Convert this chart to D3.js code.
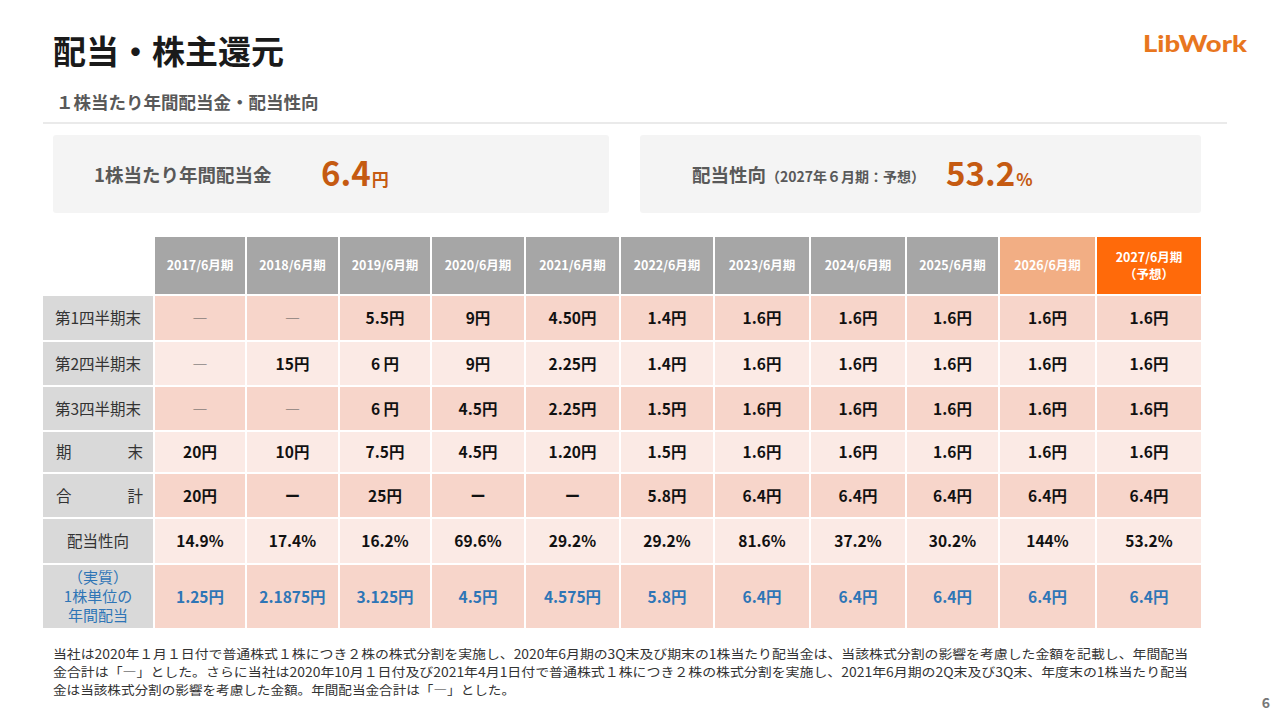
<!DOCTYPE html>
<html>
<head>
<meta charset="utf-8">
<script src="https://cdn.jsdelivr.net/npm/d3@7"></script>
<style>
  body { margin: 0; background: #fff; }
  svg text { font-family: "Noto Sans CJK JP", "Noto Sans", sans-serif; }
</style>
</head>
<body>
<div id="canvas"></div>
<script>
const width = 1280;
const height = 720;

// data
const years = ["2017/6月期", "2018/6月期", "2019/6月期", "2020/6月期", "2021/6月期", "2022/6月期",
  "2023/6月期", "2024/6月期", "2025/6月期", "2026/6月期", "2027/6月期"];
const q1End = ["―", "―", "5.5円", "9円", "4.50円", "1.4円", "1.6円", "1.6円", "1.6円", "1.6円", "1.6円"];
const q2End = ["―", "15円", "6 円", "9円", "2.25円", "1.4円", "1.6円", "1.6円", "1.6円", "1.6円", "1.6円"];
const q3End = ["―", "―", "6 円", "4.5円", "2.25円", "1.5円", "1.6円", "1.6円", "1.6円", "1.6円", "1.6円"];
const yearEnd = ["20円", "10円", "7.5円", "4.5円", "1.20円", "1.5円", "1.6円", "1.6円", "1.6円", "1.6円", "1.6円"];
const totals = ["20円", "ー", "25円", "ー", "ー", "5.8円", "6.4円", "6.4円", "6.4円", "6.4円", "6.4円"];
const payoutRatio = ["14.9%", "17.4%", "16.2%", "69.6%", "29.2%", "29.2%", "81.6%", "37.2%", "30.2%", "144%", "53.2%"];
const perShareReal = ["1.25円", "2.1875円", "3.125円", "4.5円", "4.575円", "5.8円", "6.4円", "6.4円", "6.4円", "6.4円", "6.4円"];
const rowLabels = ["第1四半期末", "第2四半期末", "第3四半期末", "期末", "合計", "配当性向", "実質"];
const annualDividend = 6.4;
const forecastPayout = 53.2;

const rows = [q1End, q2End, q3End, yearEnd, totals, payoutRatio, perShareReal];

// layout
const gap = 2;
const colWidths = [90, 91, 90, 92, 93, 92, 94, 94, 91, 95, 104];
const tableLeft = 155;
const colLefts = [tableLeft, ...d3.cumsum(colWidths).map((v, i) => tableLeft + v + gap * (i + 1))].slice(0, years.length);
const x = d3.scaleOrdinal(years, colLefts);
const w = d3.scaleOrdinal(years, colWidths);

const rowHeights = [46, 45, 45, 42, 45, 46, 65];
const tableTop = 237, headerH = 57, bodyTop = 296;
const rowTops = [bodyTop, ...d3.cumsum(rowHeights).map(v => bodyTop + v)];

const svg = d3.select("#canvas")
  .append("svg")
  .attr("width", width)
  .attr("height", height);

// title
svg.append("text").attr("x", 53).attr("y", 64)
  .attr("font-size", 33).attr("font-weight", 700).attr("fill", "#1a1a1a")
  .text("配当・株主還元");

svg.append("text").attr("x", 1143).attr("y", 52)
  .attr("font-size", 23).attr("font-weight", 900).attr("fill", "#E8761E")
  .attr("textLength", 104).attr("lengthAdjust", "spacingAndGlyphs")
  .style("font-family", "Lato, sans-serif")
  .text("LibWork");

svg.append("text").attr("x", 56).attr("y", 109)
  .attr("font-size", 17.5).attr("font-weight", 700).attr("fill", "#595959")
  .text("１株当たり年間配当金・配当性向");

svg.append("line").attr("x1", 43).attr("x2", 1227).attr("y1", 123).attr("y2", 123)
  .attr("stroke", "#e3e3e3").attr("stroke-width", 1.5);

// summary boxes
svg.append("rect").attr("x", 53).attr("y", 135).attr("width", 556).attr("height", 78)
  .attr("rx", 3).attr("fill", "#f4f4f4");
svg.append("rect").attr("x", 640).attr("y", 135).attr("width", 561).attr("height", 78)
  .attr("rx", 3).attr("fill", "#f4f4f4");

svg.append("text").attr("x", 94).attr("y", 182)
  .attr("font-size", 18.5).attr("font-weight", 700).attr("fill", "#595959")
  .text("1株当たり年間配当金");
const big1 = svg.append("text").attr("x", 321).attr("y", 186).attr("fill", "#C55A11").attr("font-weight", 700);
big1.append("tspan").attr("font-size", 33).text(d3.format(".1f")(annualDividend));
big1.append("tspan").attr("font-size", 17).attr("dx", 1).text("円");

const lab2 = svg.append("text").attr("x", 692).attr("y", 182).attr("fill", "#595959").attr("font-weight", 700);
lab2.append("tspan").attr("font-size", 18.5).text("配当性向");
lab2.append("tspan").attr("font-size", 14).text("（2027年６月期：予想）");
const big2 = svg.append("text").attr("x", 946).attr("y", 186).attr("fill", "#C55A11").attr("font-weight", 700);
big2.append("tspan").attr("font-size", 33).text(d3.format(".1f")(forecastPayout));
big2.append("tspan").attr("font-size", 17).attr("dx", 1).text("%");

// table header
const headerFill = d => d === "2027/6月期" ? "#FF6A0A" : d === "2026/6月期" ? "#F2AE84" : "#A6A6A6";

const header = svg.append("g");
header.selectAll("rect").data(years).join("rect")
  .attr("x", d => x(d)).attr("y", tableTop)
  .attr("width", d => w(d)).attr("height", headerH)
  .attr("fill", headerFill);
header.selectAll("text").data(years).join("text")
  .attr("x", d => x(d) + w(d) / 2)
  .attr("y", d => d === "2027/6月期" ? tableTop + 25 : tableTop + 33)
  .attr("text-anchor", "middle").attr("font-size", 12.5).attr("font-weight", 700).attr("fill", "#fff")
  .text(d => d);
header.append("text")
  .attr("x", x("2027/6月期") + w("2027/6月期") / 2).attr("y", tableTop + 42)
  .attr("text-anchor", "middle").attr("font-size", 12.5).attr("font-weight", 700).attr("fill", "#fff")
  .text("（予想）");

// table body
const rowFill = i => i % 2 === 0 ? "#F7D5CA" : "#FBEAE5";

rows.forEach((vals, i) => {
  const y0 = rowTops[i];
  const h = rowHeights[i] - gap;
  const g = svg.append("g");

  g.append("rect").attr("x", 43).attr("y", y0).attr("width", 110).attr("height", h).attr("fill", "#D9D9D9");

  const cx = 98, cy = y0 + h / 2;
  const label = rowLabels[i];
  if (label === "期末" || label === "合計") {
    g.append("text").attr("x", 56).attr("y", cy + 6).attr("font-size", 15.5).attr("fill", "#333").text(label[0]);
    g.append("text").attr("x", 143).attr("y", cy + 6).attr("text-anchor", "end").attr("font-size", 15.5).attr("fill", "#333").text(label[1]);
  } else if (label === "実質") {
    ["（実質）", "1株単位の", "年間配当"].forEach((t, k) => {
      g.append("text").attr("x", cx).attr("y", cy - 14 + k * 19)
        .attr("text-anchor", "middle").attr("font-size", 15).attr("fill", "#2E75B6").text(t);
    });
  } else {
    g.append("text").attr("x", cx).attr("y", cy + 6).attr("text-anchor", "middle")
      .attr("font-size", 15.5).attr("fill", "#333").text(label);
  }

  const blue = label === "実質";
  g.selectAll("rect.cell").data(vals).join("rect").attr("class", "cell")
    .attr("x", (d, j) => x(years[j])).attr("y", y0)
    .attr("width", (d, j) => w(years[j])).attr("height", h)
    .attr("fill", rowFill(i));
  g.selectAll("text.val").data(vals).join("text").attr("class", "val")
    .attr("x", (d, j) => x(years[j]) + w(years[j]) / 2)
    .attr("y", cy + 6)
    .attr("text-anchor", "middle")
    .attr("font-size", 15.5)
    .attr("font-weight", d => d === "―" ? 300 : 700)
    .attr("fill", d => blue ? "#2E75B6" : d === "―" ? "#555" : "#111")
    .text(d => d);
});

// footnote
const notes = [
  "当社は2020年１月１日付で普通株式１株につき２株の株式分割を実施し、2020年6月期の3Q末及び期末の1株当たり配当金は、当該株式分割の影響を考慮した金額を記載し、年間配当",
  "金合計は「―」とした。さらに当社は2020年10月１日付及び2021年4月1日付で普通株式１株につき２株の株式分割を実施し、2021年6月期の2Q末及び3Q末、年度末の1株当たり配当",
  "金は当該株式分割の影響を考慮した金額。年間配当金合計は「―」とした。"
];
const noteLens = [1135, 1135, 462];
svg.append("g").selectAll("text").data(notes).join("text")
  .attr("x", 53).attr("y", (d, i) => 659 + i * 18)
  .attr("font-size", 12.5).attr("fill", "#333")
  .attr("textLength", (d, i) => noteLens[i]).attr("lengthAdjust", "spacingAndGlyphs")
  .text(d => d);

svg.append("text").attr("x", 1270).attr("y", 708).attr("text-anchor", "end")
  .attr("font-size", 14).attr("font-weight", 700).attr("fill", "#777").text("6");
</script>
</body>
</html>
